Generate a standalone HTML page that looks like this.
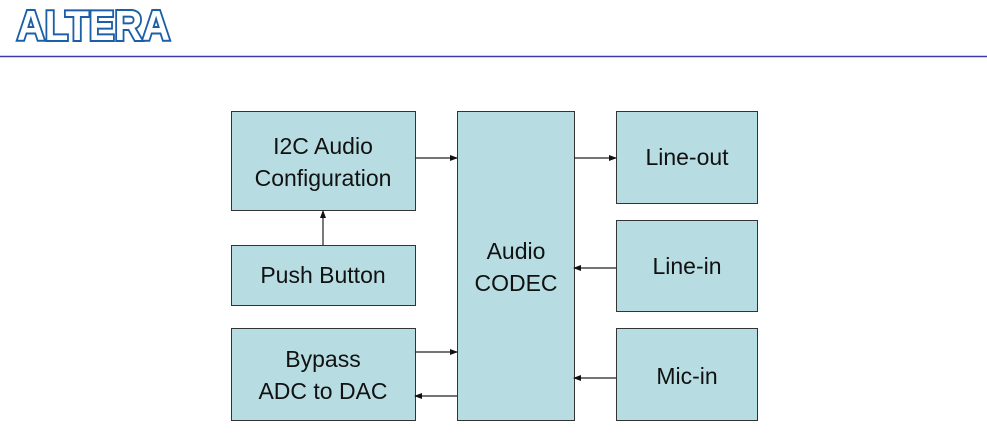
<!DOCTYPE html>
<html><head><style>
body{margin:0;width:987px;height:428px;background:#fff;overflow:hidden;font-family:"Liberation Sans",sans-serif}
</style></head><body>
<svg width="987" height="428" xmlns="http://www.w3.org/2000/svg">
<defs><marker id="a" markerWidth="8" markerHeight="8" refX="7" refY="4" orient="auto" markerUnits="userSpaceOnUse"><path d="M0,1 L8,4 L0,7z" fill="#111"/></marker></defs>
<text x="17" y="40" font-family="Liberation Sans" font-weight="bold" font-size="42" textLength="153" lengthAdjust="spacingAndGlyphs" fill="#fff" stroke="#1a5fa8" stroke-width="4" paint-order="stroke">ALTERA</text>
<line x1="0" y1="56.5" x2="987" y2="56.5" stroke="#3b3ba8" stroke-width="1.5"/>
<g fill="#b7dde3" stroke="#333" stroke-width="1">
<rect x="231.5" y="111.5" width="184" height="99"/>
<rect x="231.5" y="245.5" width="184" height="60"/>
<rect x="231.5" y="328.5" width="184" height="92"/>
<rect x="457.5" y="111.5" width="117" height="309"/>
<rect x="616.5" y="111.5" width="141" height="92"/>
<rect x="616.5" y="220.5" width="141" height="91"/>
<rect x="616.5" y="328.5" width="141" height="92"/>
</g>
<g stroke="#222" stroke-width="1.2" marker-end="url(#a)">
<line x1="415" y1="158" x2="457" y2="158"/>
<line x1="574" y1="158" x2="616" y2="158"/>
<line x1="616" y1="268" x2="574" y2="268"/>
<line x1="616" y1="378" x2="574" y2="378"/>
<line x1="323" y1="245" x2="323" y2="211"/>
<line x1="415" y1="352" x2="457" y2="352"/>
<line x1="457" y1="396" x2="415" y2="396"/>
</g>
<g font-family="Liberation Sans" font-size="23" fill="#111" text-anchor="middle">
<text x="323" y="154">I2C Audio</text>
<text x="323" y="186">Configuration</text>
<text x="323" y="283">Push Button</text>
<text x="323" y="367">Bypass</text>
<text x="323" y="399">ADC to DAC</text>
<text x="516" y="259">Audio</text>
<text x="516" y="291">CODEC</text>
<text x="687" y="165">Line-out</text>
<text x="687" y="274">Line-in</text>
<text x="687" y="384">Mic-in</text>
</g>
</svg>
</body></html>
